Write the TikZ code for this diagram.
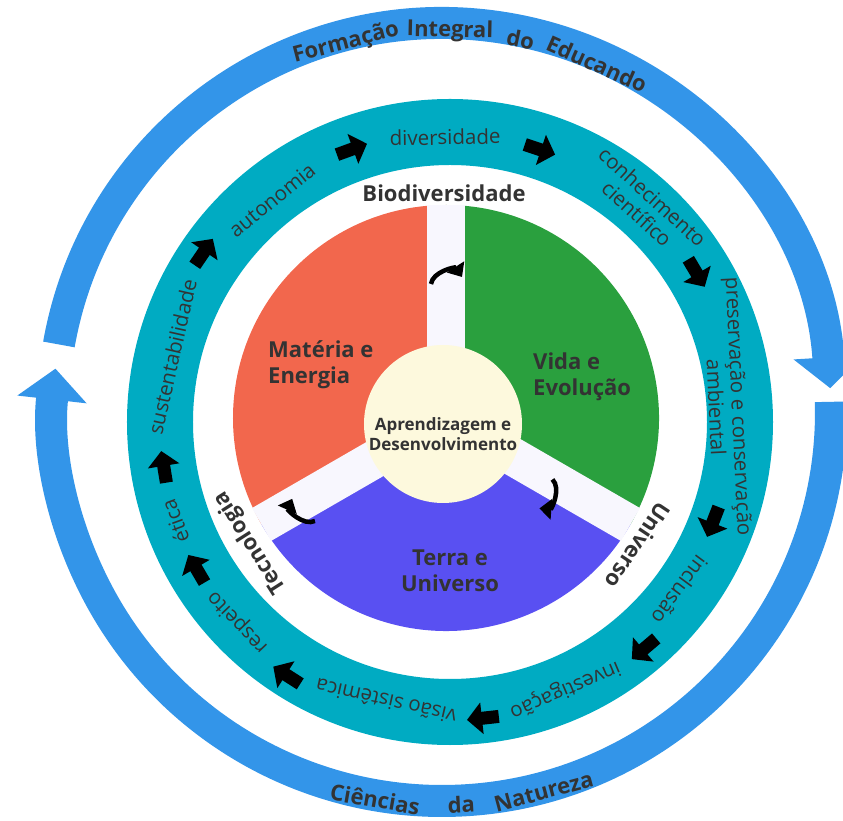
\documentclass[tikz,border=0pt]{standalone}
\usepackage{fontspec}
\setmainfont{Open Sans}
\usetikzlibrary{arrows.meta}

\definecolor{ringblue}{RGB}{51,149,233}
\definecolor{ringteal}{RGB}{0,171,194}
\definecolor{matcol}{RGB}{242,103,77}
\definecolor{vidacol}{RGB}{42,160,62}
\definecolor{terracol}{RGB}{89,80,242}
\definecolor{creamcol}{RGB}{253,249,221}
\definecolor{gapcol}{RGB}{248,247,254}
\definecolor{inkgray}{RGB}{51,51,51}

\tikzset{
  ringword/.style={font=\fontsize{20.5}{23}\selectfont, text=inkgray, align=center, inner sep=0pt},
  outerword/.style={font=\fontsize{22}{24}\selectfont\bfseries, text=inkgray, inner sep=0pt},
  boldlabel/.style={font=\fontsize{22}{26}\selectfont\bfseries, text=inkgray, align=left, inner sep=0pt},
  ringarrow/.style={line width=13pt, -{Triangle[length=15pt,width=31pt]}},
  bentarrow/.style={line width=4.5pt, -{Triangle[length=12pt,width=20pt]}},
}

\begin{document}
\begin{tikzpicture}[x=1pt,y=1pt]
  \useasboundingbox (-446,-403) rectangle (397,418);

  % outer ring, two arrows
  \draw[ringblue, line width=32pt, -{Triangle[length=31pt,width=68pt]}]
    ([shift={(-4,6)}]170:389) arc[start angle=170, end angle=3.5, radius=389pt];
  \draw[ringblue, line width=32pt, -{Triangle[length=31pt,width=68pt]}]
    ([shift={(-4,6)}]1.5:389) arc[start angle=1.5, end angle=-186.4, radius=389pt];

  \begin{scope}[shift={(-4,6)}]
    \foreach \a/\txt [count=\i] in {104.6/Formação, 88.8/Integral, 78.1/do, 66/Educando}
      \node[outerword, rotate=\a-90] (top\i) at (\a:381) {\txt};
    \foreach \a/\txt [count=\i] in {-99.8/Ciências, -87.2/da, -75/Natureza}
      \node[outerword, rotate=\a+90] (bot\i) at (\a:393) {\txt};
  \end{scope}

  % teal ring with words and arrows
  \draw[ringteal, line width=66pt] (4,-4) circle[radius=290pt];
  \begin{scope}[shift={(4,-2)}]
    \foreach \a/\r/\txt [count=\i] in {91/283/diversidade, 47.8/290/{conhecimento\\científico},
        2.7/278/{preservação e conservação\\ambiental}, -36.5/286/inclusão, -66.9/293/investigação,
        -102.8/289/visão sistêmica, -136.4/293/respeito, -159.8/293/ética,
        167.2/285/sustentabilidade, 129/283/autonomia}
      \node[ringword, rotate=\a-90] (w\i) at (\a:\r) {\txt};
    \foreach \a/\r in {109.9/288, 71.6/285, 30.8/287, -21.2/282, -49.7/300,
        -83.7/300, -122.6/303, -149.6/294, -170.7/290, 145.7/298}
      \draw[ringarrow] ([shift={(\a:\r)}]\a+90:16) -- ([shift={(\a:\r)}]\a-90:16);
  \end{scope}

  % sectors
  \fill[matcol] (0,0) -- (90:213) arc[start angle=90, end angle=210, radius=213pt] -- cycle;
  \fill[vidacol] (0,0) -- (-30:213) arc[start angle=-30, end angle=90, radius=213pt] -- cycle;
  \fill[terracol] (0,0) -- (210:213) arc[start angle=210, end angle=330, radius=213pt] -- cycle;
  \foreach \a in {90,-30,-150}
    \fill[gapcol, rotate=\a] (0,-19) rectangle (213,19);

  % arrows in the gaps
  \foreach \rot/\r in {0/140, -127/128, -237/172}
    \draw[bentarrow, rotate=\rot] (-15,\r-6) to[bend left=70] (16,\r+1);

  \node[circle, fill=creamcol, minimum size=158pt, inner sep=0pt] (centro) at (-3,-6) {};
  \node[font=\fontsize{17}{20}\selectfont\bfseries, text=inkgray, align=center, inner sep=0pt]
    (aprend) at (-3,-16) {Aprendizagem e\\Desenvolvimento};

  \node[boldlabel, anchor=west] (mat) at (-178,53) {Matéria e\\Energia};
  \node[boldlabel, anchor=west] (vida) at (87,41) {Vida e\\Evolução};
  \node[boldlabel, align=center] (terra) at (4,-153) {Terra e\\Universo};

  % gap labels
  \node[boldlabel] (bio) at (-2,225) {Biodiversidade};
  \node[boldlabel, rotate=-123.7] (uni) at (-33.7:231) {Universo};
  \node[boldlabel, rotate=122.5] (tec) at (-147.5:232) {Tecnologia};
\end{tikzpicture}
\end{document}
